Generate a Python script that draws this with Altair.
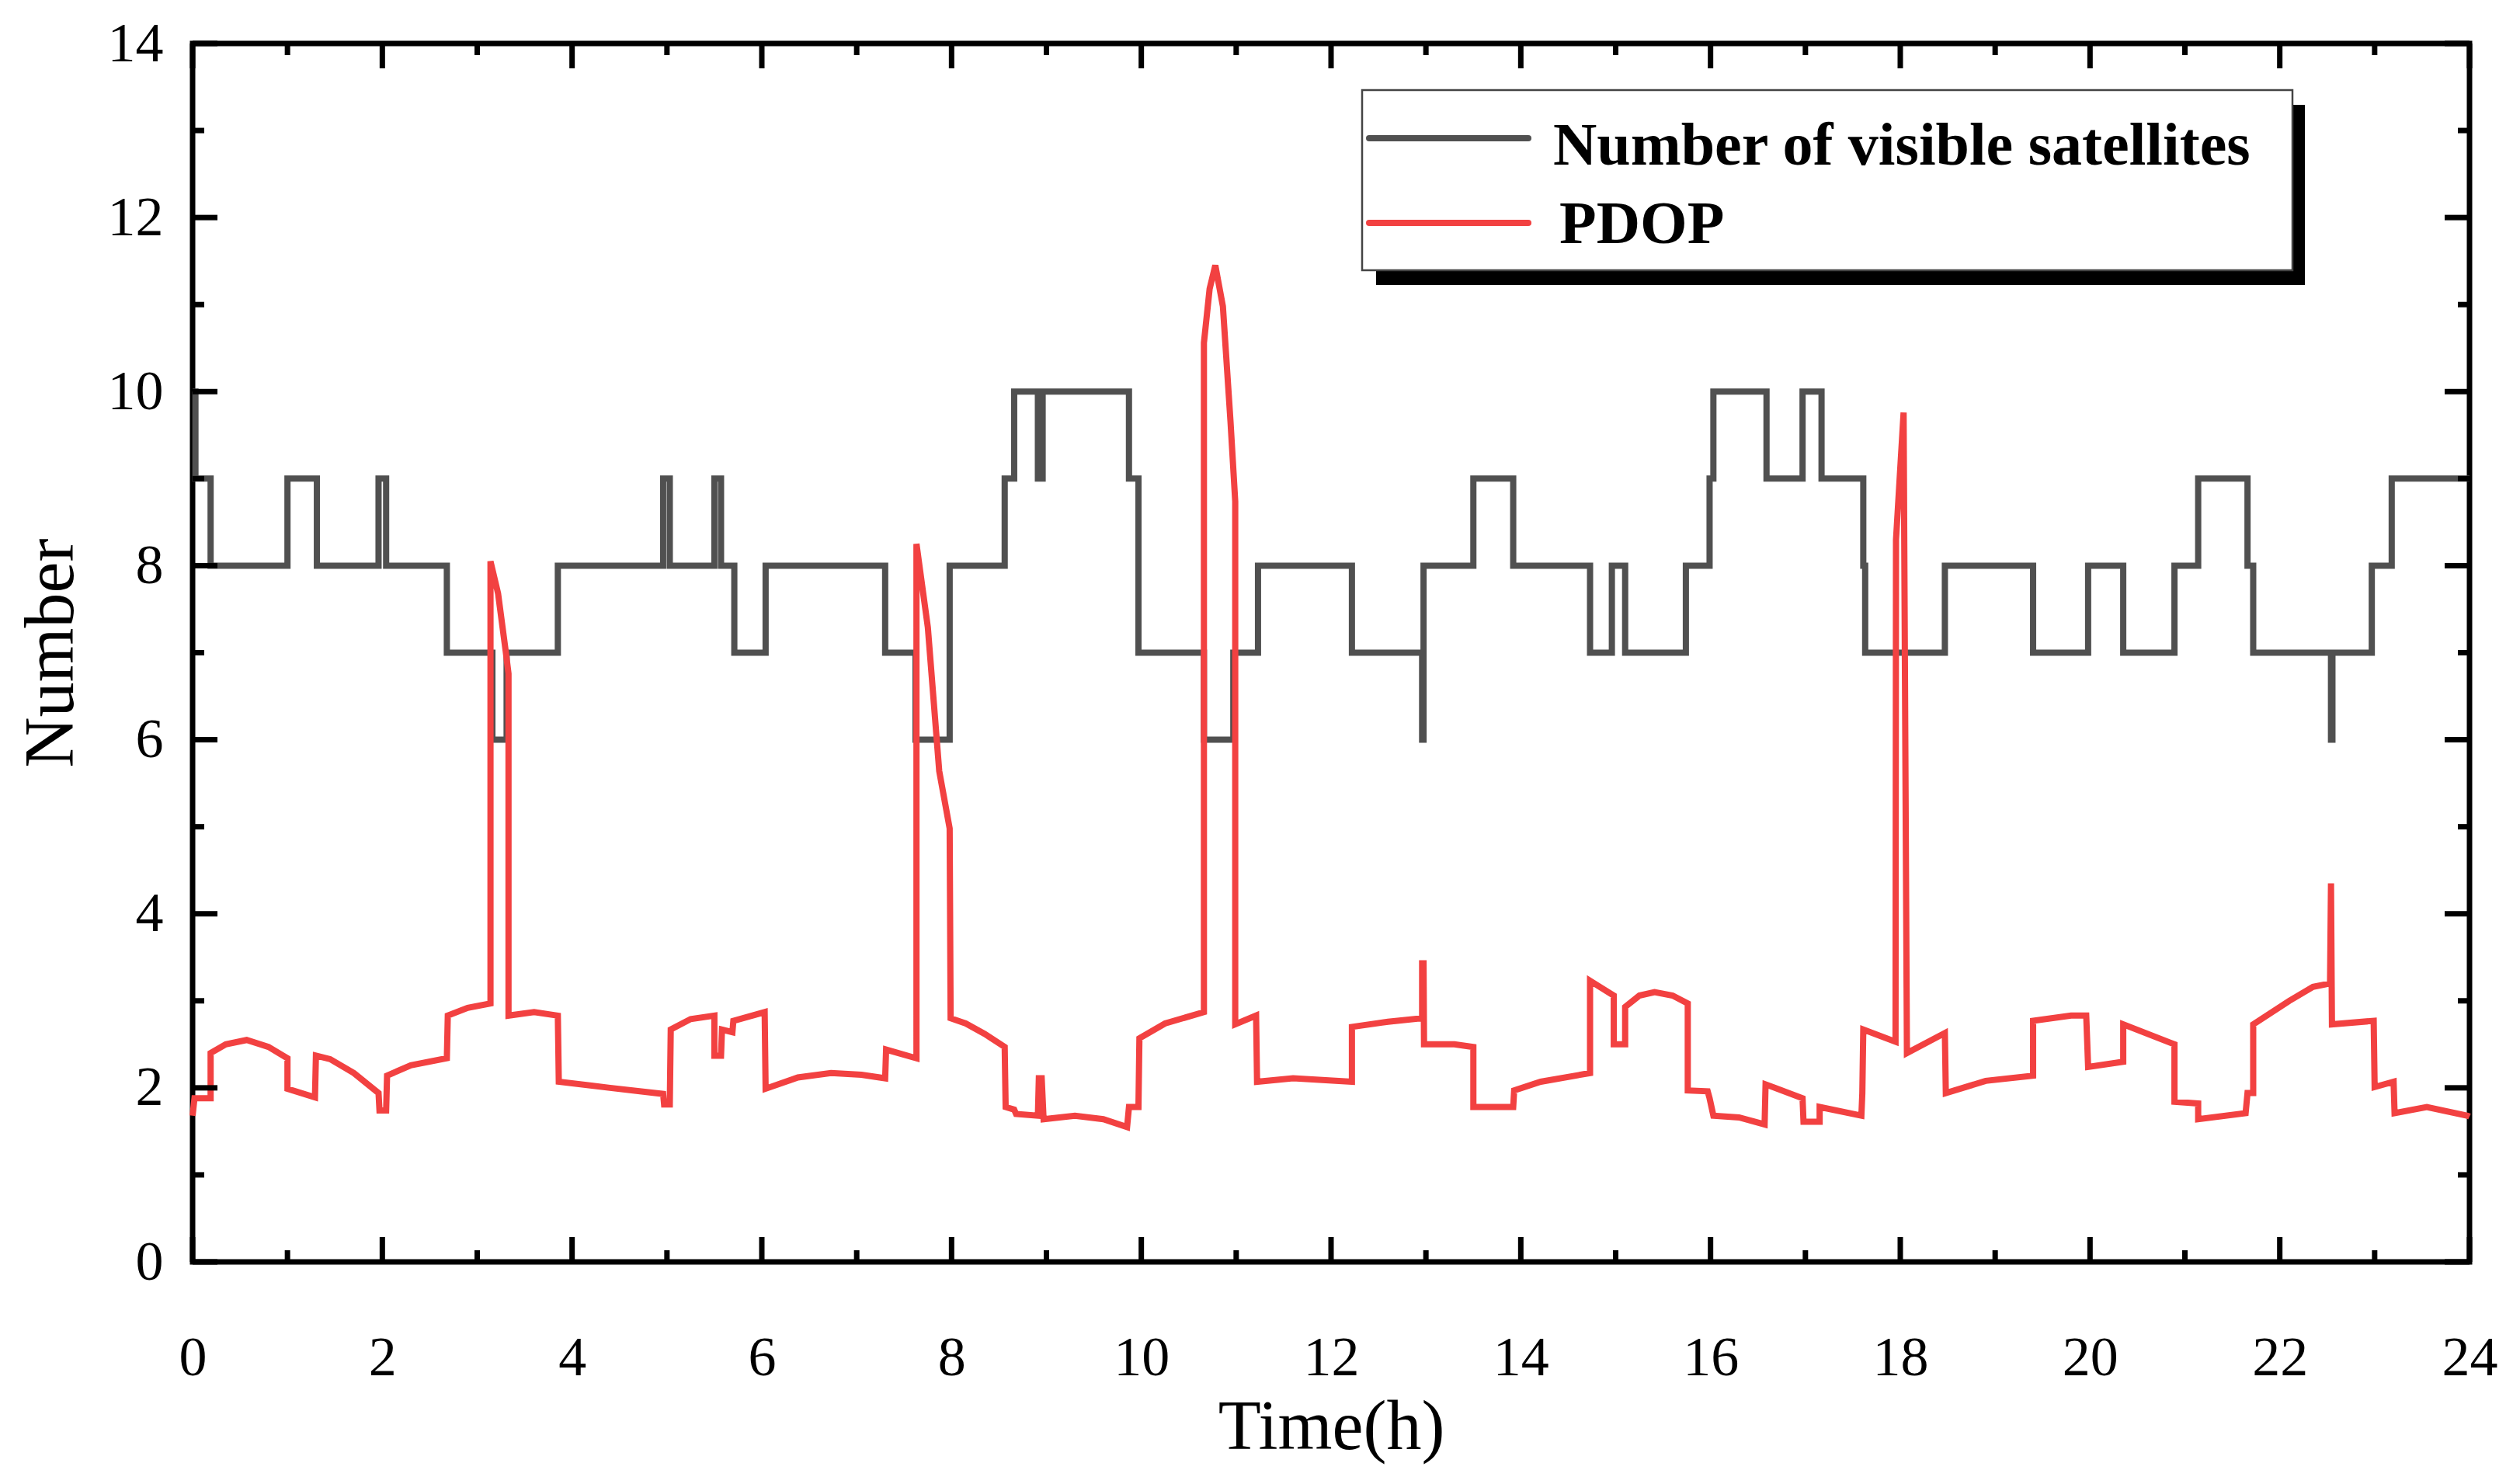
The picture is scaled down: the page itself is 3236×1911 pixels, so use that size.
import altair as alt
import pandas as pd

# number of visible satellites (step changes, value holds until next time)
sat_time = [0.00, 0.03, 0.19, 1.00, 1.31, 1.96, 2.04, 2.68, 3.16, 3.31, 3.85, 4.96,
            5.03, 5.50, 5.57, 5.71, 6.04, 7.30, 7.62, 7.98, 8.56, 8.66, 8.91, 8.96,
            9.87, 9.97, 10.66, 10.97, 11.23, 12.22, 12.96, 12.975, 13.50, 13.92,
            14.73, 14.96, 15.10, 15.74, 15.99, 16.03, 16.59, 16.97, 17.17, 17.61,
            17.63, 18.47, 19.40, 19.98, 20.35, 20.89, 21.14, 21.66, 21.72, 22.54,
            22.555, 22.97, 23.18, 24.00]
sat_num = [10, 9, 8, 9, 8, 9, 8, 7, 6, 7, 8, 9,
           8, 9, 8, 7, 8, 7, 6, 8, 9, 10, 9, 10,
           9, 7, 6, 7, 8, 7, 6, 8, 9, 8,
           7, 8, 7, 8, 9, 10, 9, 10, 9, 8,
           7, 8, 7, 8, 7, 8, 9, 8, 7, 6,
           7, 8, 9, 9]

# PDOP
pdop_time = [0.00, 0.02, 0.19, 0.19, 0.35, 0.57, 0.80, 1.00, 1.00, 1.29, 1.30, 1.45,
             1.70, 1.96, 1.97, 2.04, 2.05, 2.30, 2.68, 2.69, 2.90, 3.14, 3.14, 3.22,
             3.30, 3.33, 3.33, 3.60, 3.85, 3.86, 4.40, 4.96, 4.97, 5.03, 5.04, 5.25,
             5.50, 5.50, 5.57, 5.58, 5.69, 5.70, 6.03, 6.04, 6.38, 6.73, 7.05, 7.30,
             7.31, 7.63, 7.63, 7.75, 7.87, 7.98, 7.99, 8.15, 8.35, 8.56, 8.57, 8.66,
             8.68, 8.91, 8.92, 8.95, 8.97, 9.30, 9.60, 9.85, 9.87, 9.97, 9.98, 10.25,
             10.66, 10.66, 10.72, 10.78, 10.86, 10.94, 10.99, 10.99, 11.21, 11.22,
             11.60, 12.22, 12.22, 12.60, 12.96, 12.96, 12.975, 12.98, 13.30, 13.50,
             13.50, 13.92, 13.93, 14.21, 14.73, 14.73, 14.98, 14.98, 15.10, 15.10,
             15.25, 15.41, 15.60, 15.76, 15.76, 15.97, 15.99, 16.03, 16.30, 16.57,
             16.58, 16.97, 16.98, 17.15, 17.15, 17.59, 17.60, 17.61, 17.95, 17.955,
             18.035, 18.07, 18.47, 18.48, 18.90, 19.40, 19.40, 19.80, 19.96, 19.98,
             20.35, 20.35, 20.89, 20.89, 21.14, 21.14, 21.64, 21.66, 21.72, 21.72,
             22.10, 22.35, 22.53, 22.54, 22.55, 22.99, 23.00, 23.20, 23.21, 23.55,
             23.98, 24.00]
pdop_val = [1.68, 1.88, 1.88, 2.40, 2.50, 2.55, 2.47, 2.34, 1.99, 1.89, 2.37, 2.33,
            2.17, 1.94, 1.74, 1.74, 2.14, 2.26, 2.34, 2.83, 2.92, 2.97, 8.05, 7.68,
            7.02, 6.76, 2.83, 2.87, 2.83, 2.07, 2.00, 1.93, 1.81, 1.81, 2.67, 2.79,
            2.83, 2.37, 2.37, 2.67, 2.64, 2.77, 2.87, 1.99, 2.12, 2.17, 2.15, 2.11,
            2.44, 2.34, 8.25, 7.29, 5.64, 4.98, 2.80, 2.74, 2.62, 2.47, 1.78, 1.75,
            1.70, 1.68, 2.11, 2.11, 1.64, 1.68, 1.64, 1.55, 1.78, 1.78, 2.57, 2.74,
            2.87, 10.56, 11.18, 11.45, 10.98, 9.66, 8.74, 2.73, 2.83, 2.07,
            2.11, 2.07, 2.70, 2.76, 2.80, 3.43, 3.43, 2.50, 2.50, 2.47,
            1.78, 1.78, 1.97, 2.07, 2.17, 3.23, 3.06, 2.50, 2.50, 2.93,
            3.06, 3.10, 3.06, 2.97, 1.97, 1.96, 1.88, 1.68, 1.66, 1.58,
            2.04, 1.88, 1.61, 1.61, 1.78, 1.68, 1.94, 2.67, 2.53, 8.30,
            9.76, 2.40, 2.63, 1.94, 2.08, 2.14, 2.77, 2.83, 2.83, 2.24,
            2.30, 2.73, 2.50, 1.84, 1.82, 1.64, 1.71, 1.94, 1.94, 2.73,
            3.00, 3.16, 3.20, 4.35, 2.73, 2.77, 2.01, 2.07, 1.71, 1.78,
            1.68, 1.67]

x_major = list(range(0, 25, 2))
x_minor = list(range(1, 24, 2))
y_major = list(range(0, 15, 2))
y_minor = list(range(1, 14, 2))

legend_labels = ["Number of visible satellites", "PDOP"]
colors = ["#505050", "#f24141"]

W, H = 2932, 1569
SERIF = "Liberation Serif"

sat_df = pd.DataFrame({"t": sat_time, "v": sat_num})
sat_df["i"] = range(len(sat_df))
pdop_df = pd.DataFrame({"t": pdop_time, "v": pdop_val})
pdop_df["i"] = range(len(pdop_df))

# same encoding in every layer so the shared axes merge cleanly
x_enc = alt.X(
    "t:Q", title="Time(h)",
    scale=alt.Scale(domain=[0, 24], nice=False, zero=False),
    axis=alt.Axis(values=x_major, format="d", labelPadding=88, titlePadding=10,
                  labelFlush=False),
)
y_enc = alt.Y(
    "v:Q", title="Number",
    scale=alt.Scale(domain=[0, 14], nice=False, zero=False),
    axis=alt.Axis(values=y_major, format="d", labelPadding=38, titlePadding=26,
                  labelFlush=False),
)

sat_line = alt.Chart(sat_df).mark_line(
    interpolate="step-after", color=colors[0], strokeWidth=8
).encode(x=x_enc, y=y_enc, order="i:Q")

pdop_line = alt.Chart(pdop_df).mark_line(
    color=colors[1], strokeWidth=8
).encode(x=x_enc, y=y_enc, order="i:Q")


def x_ticks(values, y0, y1):
    return alt.Chart(pd.DataFrame({"t": values})).mark_rule(
        color="black", strokeWidth=7
    ).encode(x=x_enc, y=alt.value(y0), y2=alt.value(y1))


def y_ticks(values, x0, x1):
    return alt.Chart(pd.DataFrame({"v": values})).mark_rule(
        color="black", strokeWidth=7
    ).encode(y=y_enc, x=alt.value(x0), x2=alt.value(x1))


ticks = [
    x_ticks(x_major, H, H - 32), x_ticks(x_minor, H, H - 15),
    x_ticks(x_major, 0, 32), x_ticks(x_minor, 0, 15),
    y_ticks(y_major, 0, 32), y_ticks(y_minor, 0, 15),
    y_ticks(y_major, W, W - 32), y_ticks(y_minor, W, W - 15),
]

one = alt.Data(values=[{}])

# legend box with drop shadow
shadow = alt.Chart(one).mark_rect(color="black").encode(
    x=alt.value(1524), x2=alt.value(2720), y=alt.value(79), y2=alt.value(311)
)
box = alt.Chart(one).mark_rect(fill="white", stroke="#444444", strokeWidth=2.5).encode(
    x=alt.value(1506), x2=alt.value(2704), y=alt.value(60), y2=alt.value(292)
)

legend_layers = []
for label, color, y_line, y_text, x_text in zip(
        legend_labels, colors, [122, 231], [156, 257], [1752, 1760]):
    legend_layers.append(
        alt.Chart(one).mark_rule(color=color, strokeWidth=8, strokeCap="round").encode(
            x=alt.value(1515), x2=alt.value(1720), y=alt.value(y_line)
        )
    )
    legend_layers.append(
        alt.Chart(one).mark_text(
            text=label, font=SERIF, fontSize=78, fontWeight="bold",
            align="left", baseline="alphabetic", color="black"
        ).encode(x=alt.value(x_text), y=alt.value(y_text))
    )

chart = alt.layer(
    sat_line, pdop_line, *ticks, shadow, box, *legend_layers
).properties(
    width=W,
    height=H,
    autosize=alt.AutoSizeParams(type="none"),
    padding={"left": 240, "top": 48, "right": 48, "bottom": 270},
    background="white",
).configure_view(
    stroke="black", strokeWidth=7
).configure_axis(
    grid=False, domain=False, ticks=False, tickSize=0,
    labelFont=SERIF, labelFontSize=72, labelColor="black",
    titleFont=SERIF, titleFontSize=90, titleFontWeight="normal", titleColor="black",
)

chart.save("out.html", embed_options={"renderer": "svg", "actions": False})
